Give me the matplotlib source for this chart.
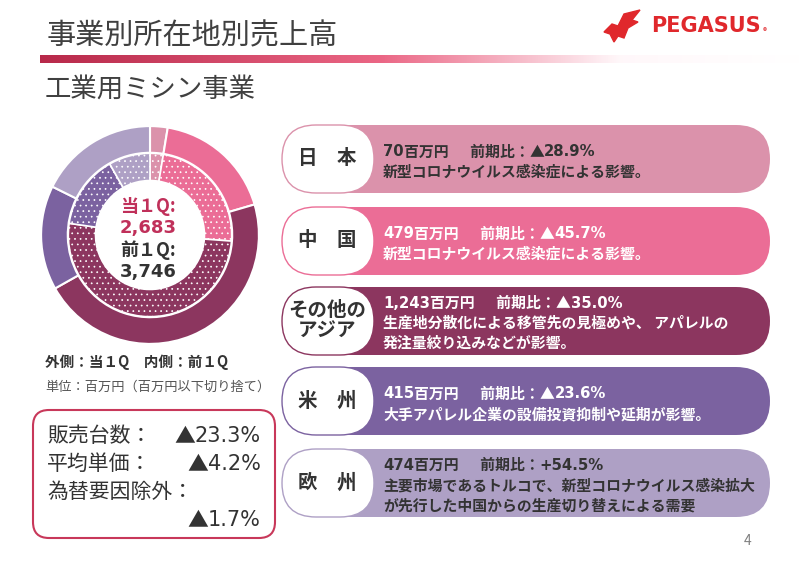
import matplotlib.pyplot as plt
import numpy as np
from matplotlib.patches import FancyBboxPatch, Polygon

plt.rcParams['font.family'] = ['Noto Sans CJK JP', 'DejaVu Sans']
plt.rcParams['hatch.linewidth'] = 0.5

# data (百万円)
regions = ["日　本", "中　国", "その他の\nアジア", "米　州", "欧　州"]
sales_now = [70, 479, 1243, 415, 474]          # 当1Q
sales_prev = [98, 882, 1912, 543, 307]         # 前1Q
total_now = "2,683"
total_prev = "3,746"
amounts = ["70", "479", "1,243", "415", "474"]
changes = ["▲28.9%", "▲45.7%", "▲35.0%", "▲23.6%", "+54.5%"]
comments = [
    ["新型コロナウイルス感染症による影響。"],
    ["新型コロナウイルス感染症による影響。"],
    ["生産地分散化による移管先の見極めや、 アパレルの", "発注量絞り込みなどが影響。"],
    ["大手アパレル企業の設備投資抑制や延期が影響。"],
    ["主要市場であるトルコで、新型コロナウイルス感染拡大", "が先行した中国からの生産切り替えによる需要"],
]
kpi_labels = ["販売台数：", "平均単価：", "為替要因除外："]
kpi_values = ["23.3%", "4.2%", "1.7%"]
colors = ["#DB92AB", "#EB6D96", "#8C365F", "#7B62A0", "#AEA0C5"]
text_colors = ["#333333", "white", "white", "white", "#333333"]
box_tops = [125, 207, 287, 367, 449]
wide = ['DejaVu Sans', 'Noto Sans CJK JP']

fig = plt.figure(figsize=(8, 5.66), dpi=100)
ax = fig.add_axes([0, 0, 1, 1])
ax.set_xlim(0, 800)
ax.set_ylim(566, 0)
ax.axis('off')


def chain(prev, s, **kw):
    # put s right after the previous text
    return ax.annotate(s, xy=(1, 0.5), xycoords=prev, va='center', ha='left', **kw)


# title + gradient rule
ax.text(47, 36, "事業別所在地別売上高", fontsize=21, color="#404040", va='center')
ax.text(45, 89, "工業用ミシン事業", fontsize=19, color="#404040", va='center')
xs = np.linspace(40, 800, 400)
stops_x = [40, 380, 620, 800]
stops_c = np.array([[0.72, 0.16, 0.29], [0.92, 0.40, 0.52], [1.0, 0.97, 0.98], [1.0, 1.0, 1.0]])
rgb = np.stack([np.interp(xs, stops_x, stops_c[:, k]) for k in range(3)], axis=1)
ax.imshow(rgb[None, :, :], extent=[40, 800, 63, 55], aspect='auto', zorder=1)

# logo
horse = Polygon([[604, 32], [612, 24], [618, 26], [624, 14], [640, 10], [632, 20],
                 [638, 22], [628, 28], [624, 38], [618, 36], [614, 42], [610, 34]],
                closed=True, color="#E0282C")
ax.add_patch(horse)
ax.text(651, 26, "PEGASUS", fontsize=15, fontweight='bold', color="#E0282C",
        va='center', family='DejaVu Sans')
ax.text(763, 32, "®", fontsize=6, color="#E0282C", va='center')

# region boxes
for i in range(5):
    top = box_tops[i]
    h = 68
    ax.add_patch(FancyBboxPatch((300, top), 470, h, boxstyle="round,pad=0,rounding_size=34",
                                fc=colors[i], ec='none', zorder=2))
    ax.add_patch(FancyBboxPatch((282, top), 92, h, boxstyle="round,pad=0,rounding_size=34",
                                fc='white', ec=colors[i], lw=1, zorder=3))
    ax.text(327, top + h / 2, regions[i], fontsize=14, fontweight='bold', color="#333333",
            ha='center', va='center', zorder=4, linespacing=1.1)
    y0 = top + 27 if len(comments[i]) == 1 else top + 16
    st = dict(fontsize=10.7, fontweight='bold', color=text_colors[i], zorder=4)
    t = ax.text(383, y0, amounts[i], va='center', family=wide, **st)
    t = chain(t, "百万円　  前期比：", **st)
    if changes[i][0] == "▲":
        t = chain(t, "▲", **st)
    chain(t, changes[i].lstrip("▲"), family=wide, **st)
    for j, s in enumerate(comments[i]):
        ax.text(383, y0 + (j + 1) * 20, s, va='center', **st)

# donut captions
ax.text(45, 362, "外側：当１Q　内側：前１Q", fontsize=10.5, fontweight='bold', color="#333333", va='center')
ax.text(45, 387, "単位：百万円（百万円以下切り捨て）", fontsize=9.5, color="#555555", va='center')
ax.text(148, 206, "当１Q:", fontsize=13, fontweight='bold', color="#C0305A", ha='center', va='center')
ax.text(148, 228, total_now, fontsize=13, fontweight='bold', color="#C0305A", ha='center', va='center',
        family=wide)
ax.text(148, 250, "前１Q:", fontsize=13, fontweight='bold', color="#333333", ha='center', va='center')
ax.text(148, 272, total_prev, fontsize=13, fontweight='bold', color="#333333", ha='center', va='center',
        family=wide)

# KPI box
ax.add_patch(FancyBboxPatch((33, 410), 242, 128, boxstyle="round,pad=0,rounding_size=16",
                            fc='white', ec="#C8385A", lw=1.5, zorder=2))
kst = dict(fontsize=15, color="#333333", zorder=3)
for k, lab in enumerate(kpi_labels):
    ax.text(47, 436 + 28 * k, lab, va='center', **kst)
for k, val in enumerate(kpi_values):
    yv = 436 + 28 * k if k < 2 else 520
    tv = ax.text(261, yv, val, va='center', ha='right', family=wide, **kst)
    ax.annotate("▲", xy=(0, 0.5), xycoords=tv, va='center', ha='right', **kst)

ax.text(748, 541, "4", fontsize=10, color="#808080", ha='center', va='center')

# donut
cx, cy, r = 150, 235, 110
pax = fig.add_axes([(cx - r) / 800, (566 - cy - r) / 566, 2 * r / 800, 2 * r / 566])
pax.pie(sales_now, radius=1, colors=colors, startangle=90, counterclock=False,
        wedgeprops=dict(width=0.245, edgecolor='white', linewidth=1.5))
pax.pie(sales_prev, radius=0.75, colors=colors, startangle=90, counterclock=False,
        wedgeprops=dict(width=0.25, edgecolor='white', linewidth=1.2, hatch='...'))
pax.set_xlim(-1.01, 1.01)
pax.set_ylim(-1.01, 1.01)
pax.set_aspect('auto')
pax.axis('off')

fig.savefig("out.png", dpi=100)
